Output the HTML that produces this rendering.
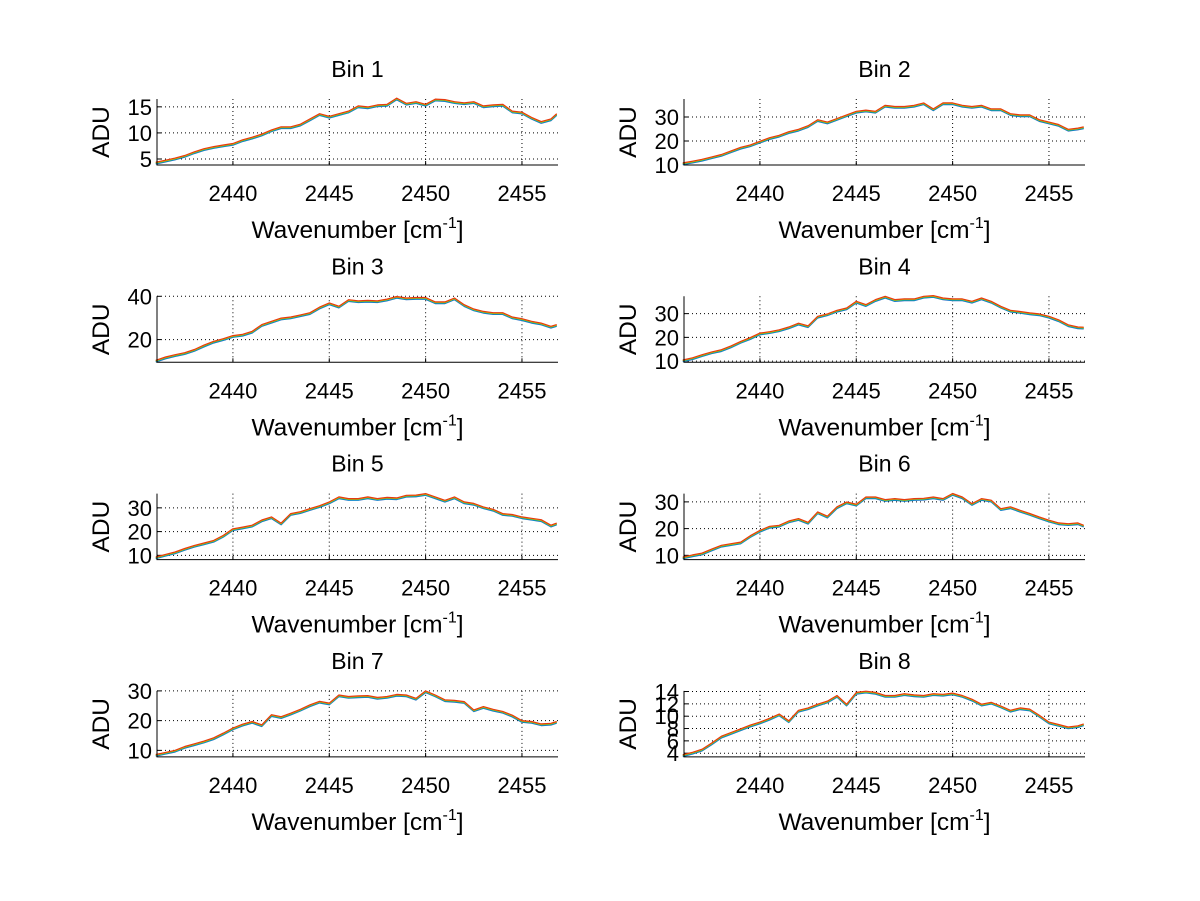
<!DOCTYPE html>
<html><head><meta charset="utf-8"><style>
html,body{margin:0;padding:0;background:#fff;}
svg{display:block;font-family:"Liberation Sans",Arial,sans-serif;}
</style></head><body>
<svg id="fig" width="1200" height="901" viewBox="0 0 1200 901" xmlns="http://www.w3.org/2000/svg">
<rect width="1200" height="901" fill="#fff"/>
</svg>
<script>
const wavenumbers = [2436,2436.5,2437,2437.5,2438,2438.5,2439,2439.5,2440,2440.5,2441,2441.5,2442,2442.5,2443,2443.5,2444,2444.5,2445,2445.5,2446,2446.5,2447,2447.5,2448,2448.5,2449,2449.5,2450,2450.5,2451,2451.5,2452,2452.5,2453,2453.5,2454,2454.5,2455,2455.5,2456,2456.5,2456.8];
const bin1 = [4.2,4.6,5.0,5.5,6.2,6.8,7.2,7.5,7.8,8.5,9.0,9.6,10.4,11.0,11.0,11.5,12.5,13.5,13.0,13.5,14.0,15.0,14.8,15.2,15.3,16.5,15.5,15.8,15.3,16.3,16.2,15.8,15.6,15.8,15.0,15.2,15.3,14.0,13.8,12.8,12.0,12.5,13.5];
const bin2 = [10.5,11.2,12,13,14,15.5,17,18,19.5,21,22,23.5,24.5,26,28.5,27.5,29,30.5,32,32.5,32,34.5,34,34,34.5,35.5,33,35.5,35.5,34.5,34,34.5,33,33,31,30.5,30.5,28.5,27.5,26.5,24.5,25,25.5];
const bin3 = [10,11.5,12.6,13.5,15,17,18.8,20,21.4,22,23.4,26.5,28,29.5,30,31,32,34.6,36.5,35,38,37.5,37.7,37.5,38.3,39.5,38.8,39,39,37,37,38.8,35.7,33.7,32.6,32,32,30,29.2,28,27.2,25.7,26.5];
const bin4 = [10.1,11,12.3,13.5,14.4,16,17.9,19.5,21.4,22,22.8,24,25.6,24.5,28.5,29.5,31,32,34.8,33.4,35.5,36.9,35.5,35.8,35.8,36.9,37.2,36.2,35.8,35.8,34.8,36.2,34.8,32.7,31,30.5,29.9,29.5,28.5,27,24.9,24,23.9];
const bin5 = [8.9,10,11,12.5,13.8,14.8,15.9,18,20.8,21.5,22.3,24.5,25.8,23.2,27.2,28,29.3,30.5,32.1,34.2,33.5,33.5,34.2,33.5,34,33.8,34.9,35,35.6,34.2,32.8,34.2,32.1,31.5,30,29,27.2,26.8,25.8,25.2,24.6,22.3,23.2];
const bin6 = [9,9.8,10.5,12,13.4,14,14.6,17,19,20.5,20.9,22.5,23.4,22,25.9,24.3,27.8,29.6,28.8,31.5,31.5,30.5,30.9,30.5,30.9,31,31.5,30.9,32.8,31.5,29,30.9,30.3,27.1,27.8,26.5,25.3,24,22.8,21.8,21.5,21.8,20.9];
const bin7 = [8.3,9,9.7,11,11.9,12.8,13.9,15.5,17.2,18.5,19.4,18.3,21.7,21,22.2,23.5,25,26.2,25.6,28.3,27.8,28,28.1,27.5,27.8,28.5,28.3,27.2,29.7,28.3,26.7,26.5,26.1,23.3,24.4,23.5,22.8,21.5,19.7,19.4,18.6,18.8,19.4];
const bin8 = [3.6,4,4.5,5.5,6.6,7.2,7.8,8.4,8.9,9.5,10.2,9.1,10.8,11.2,11.8,12.3,13.2,11.8,13.7,13.9,13.7,13.2,13.2,13.5,13.3,13.2,13.5,13.4,13.6,13.2,12.6,11.8,12.1,11.5,10.8,11.2,11,10,8.9,8.5,8.1,8.3,8.6];
const binSeries = [bin1,bin2,bin3,bin4,bin5,bin6,bin7,bin8];
const binTitles = ["Bin 1","Bin 2","Bin 3","Bin 4","Bin 5","Bin 6","Bin 7","Bin 8"];
const yMins = [3.85,10,9.5,9.5,8.2,8.4,7.8,3.4];
const yMaxs = [16.5,37.5,40,37.3,36,33.1,30,14.1];
const yTicks = [[5,10,15],[10,20,30],[20,40],[10,20,30],[10,20,30],[10,20,30],[10,20,30],[4,6,8,10,12,14]];
const xTicks = [2440,2445,2450,2455];
const xMin = 2436.06, xMax = 2456.87;
const seriesShift = [-0.012,-0.005,0.002,0.008,0.014]; // fraction of y-range
const seriesColors = ["#1f5fc0","#00a6d6","#3cae3c","#e6c200","#e63a10"];

const NS="http://www.w3.org/2000/svg";
const svg=document.getElementById('fig');
function mk(tag,attrs,parent){const e=document.createElementNS(NS,tag);for(const k in attrs)e.setAttribute(k,attrs[k]);(parent||svg).appendChild(e);return e;}

for(let b=0;b<8;b++){
  const col=b%2,row=Math.floor(b/2);
  const L=col?684:157, R=col?1085:558, T=99+197.3*row, B=T+66;
  const g=mk('g',{});
  
  
  const xs=v=>L+(v-xMin)/(xMax-xMin)*(R-L);
  const ys=v=>B-(v-yMins[b])/(yMaxs[b]-yMins[b])*(B-T);
  xTicks.forEach(t=>{const x=xs(t);
    const gl=mk('line',{x1:x,x2:x,y1:T,y2:B,stroke:'#000','stroke-width':1,'stroke-dasharray':'1,3'},g);
    
    
    mk('line',{x1:x,x2:x,y1:B,y2:B-4,stroke:'#000'},g);
    const tl=mk('text',{x:x,y:B+36,'text-anchor':'middle','font-size':22},g);tl.textContent=t;
    
    
  });
  yTicks[b].forEach(t=>{const y=ys(t);
    const gl=mk('line',{x1:L,x2:R,y1:y,y2:y,stroke:'#000','stroke-width':1,'stroke-dasharray':'1,3'},g);
    
    
    mk('line',{x1:L,x2:L+4,y1:y,y2:y,stroke:'#000'},g);
    const tl=mk('text',{x:L-5,y:y+8,'text-anchor':'end','font-size':22},g);tl.textContent=t;
    
    
  });
  const rng=yMaxs[b]-yMins[b];
  seriesColors.forEach((c,si)=>{
    const d=binSeries[b].map((v,i)=>(i?'L':'M')+xs(wavenumbers[i]).toFixed(1)+','+ys(v+seriesShift[si]*rng).toFixed(1)).join('');
    const p=mk('path',{d:d,fill:'none',stroke:c,'stroke-width':1.2,'stroke-linejoin':'round'},g);
    
    
  });
  const ax=mk('path',{d:`M${L},${T}L${L},${B}L${R},${B}`,fill:'none',stroke:'#000','stroke-width':1},g);
  
  
  const ti=mk('text',{x:(L+R)/2,y:T-22,'text-anchor':'middle','font-size':23},g);ti.textContent=binTitles[b];
  
  
  const xl=mk('text',{x:(L+R)/2,y:B+73,'text-anchor':'middle','font-size':24.5},g);
  xl.innerHTML='Wavenumber [cm<tspan dy="-10" font-size="16">-1</tspan><tspan dy="10">]</tspan>';
  
  
  const yl=mk('text',{x:0,y:0,'text-anchor':'middle','font-size':24.5,transform:`translate(${L-48},${(T+B)/2}) rotate(-90)`},g);yl.textContent='ADU';
  
  
}
</script>
</body></html>
